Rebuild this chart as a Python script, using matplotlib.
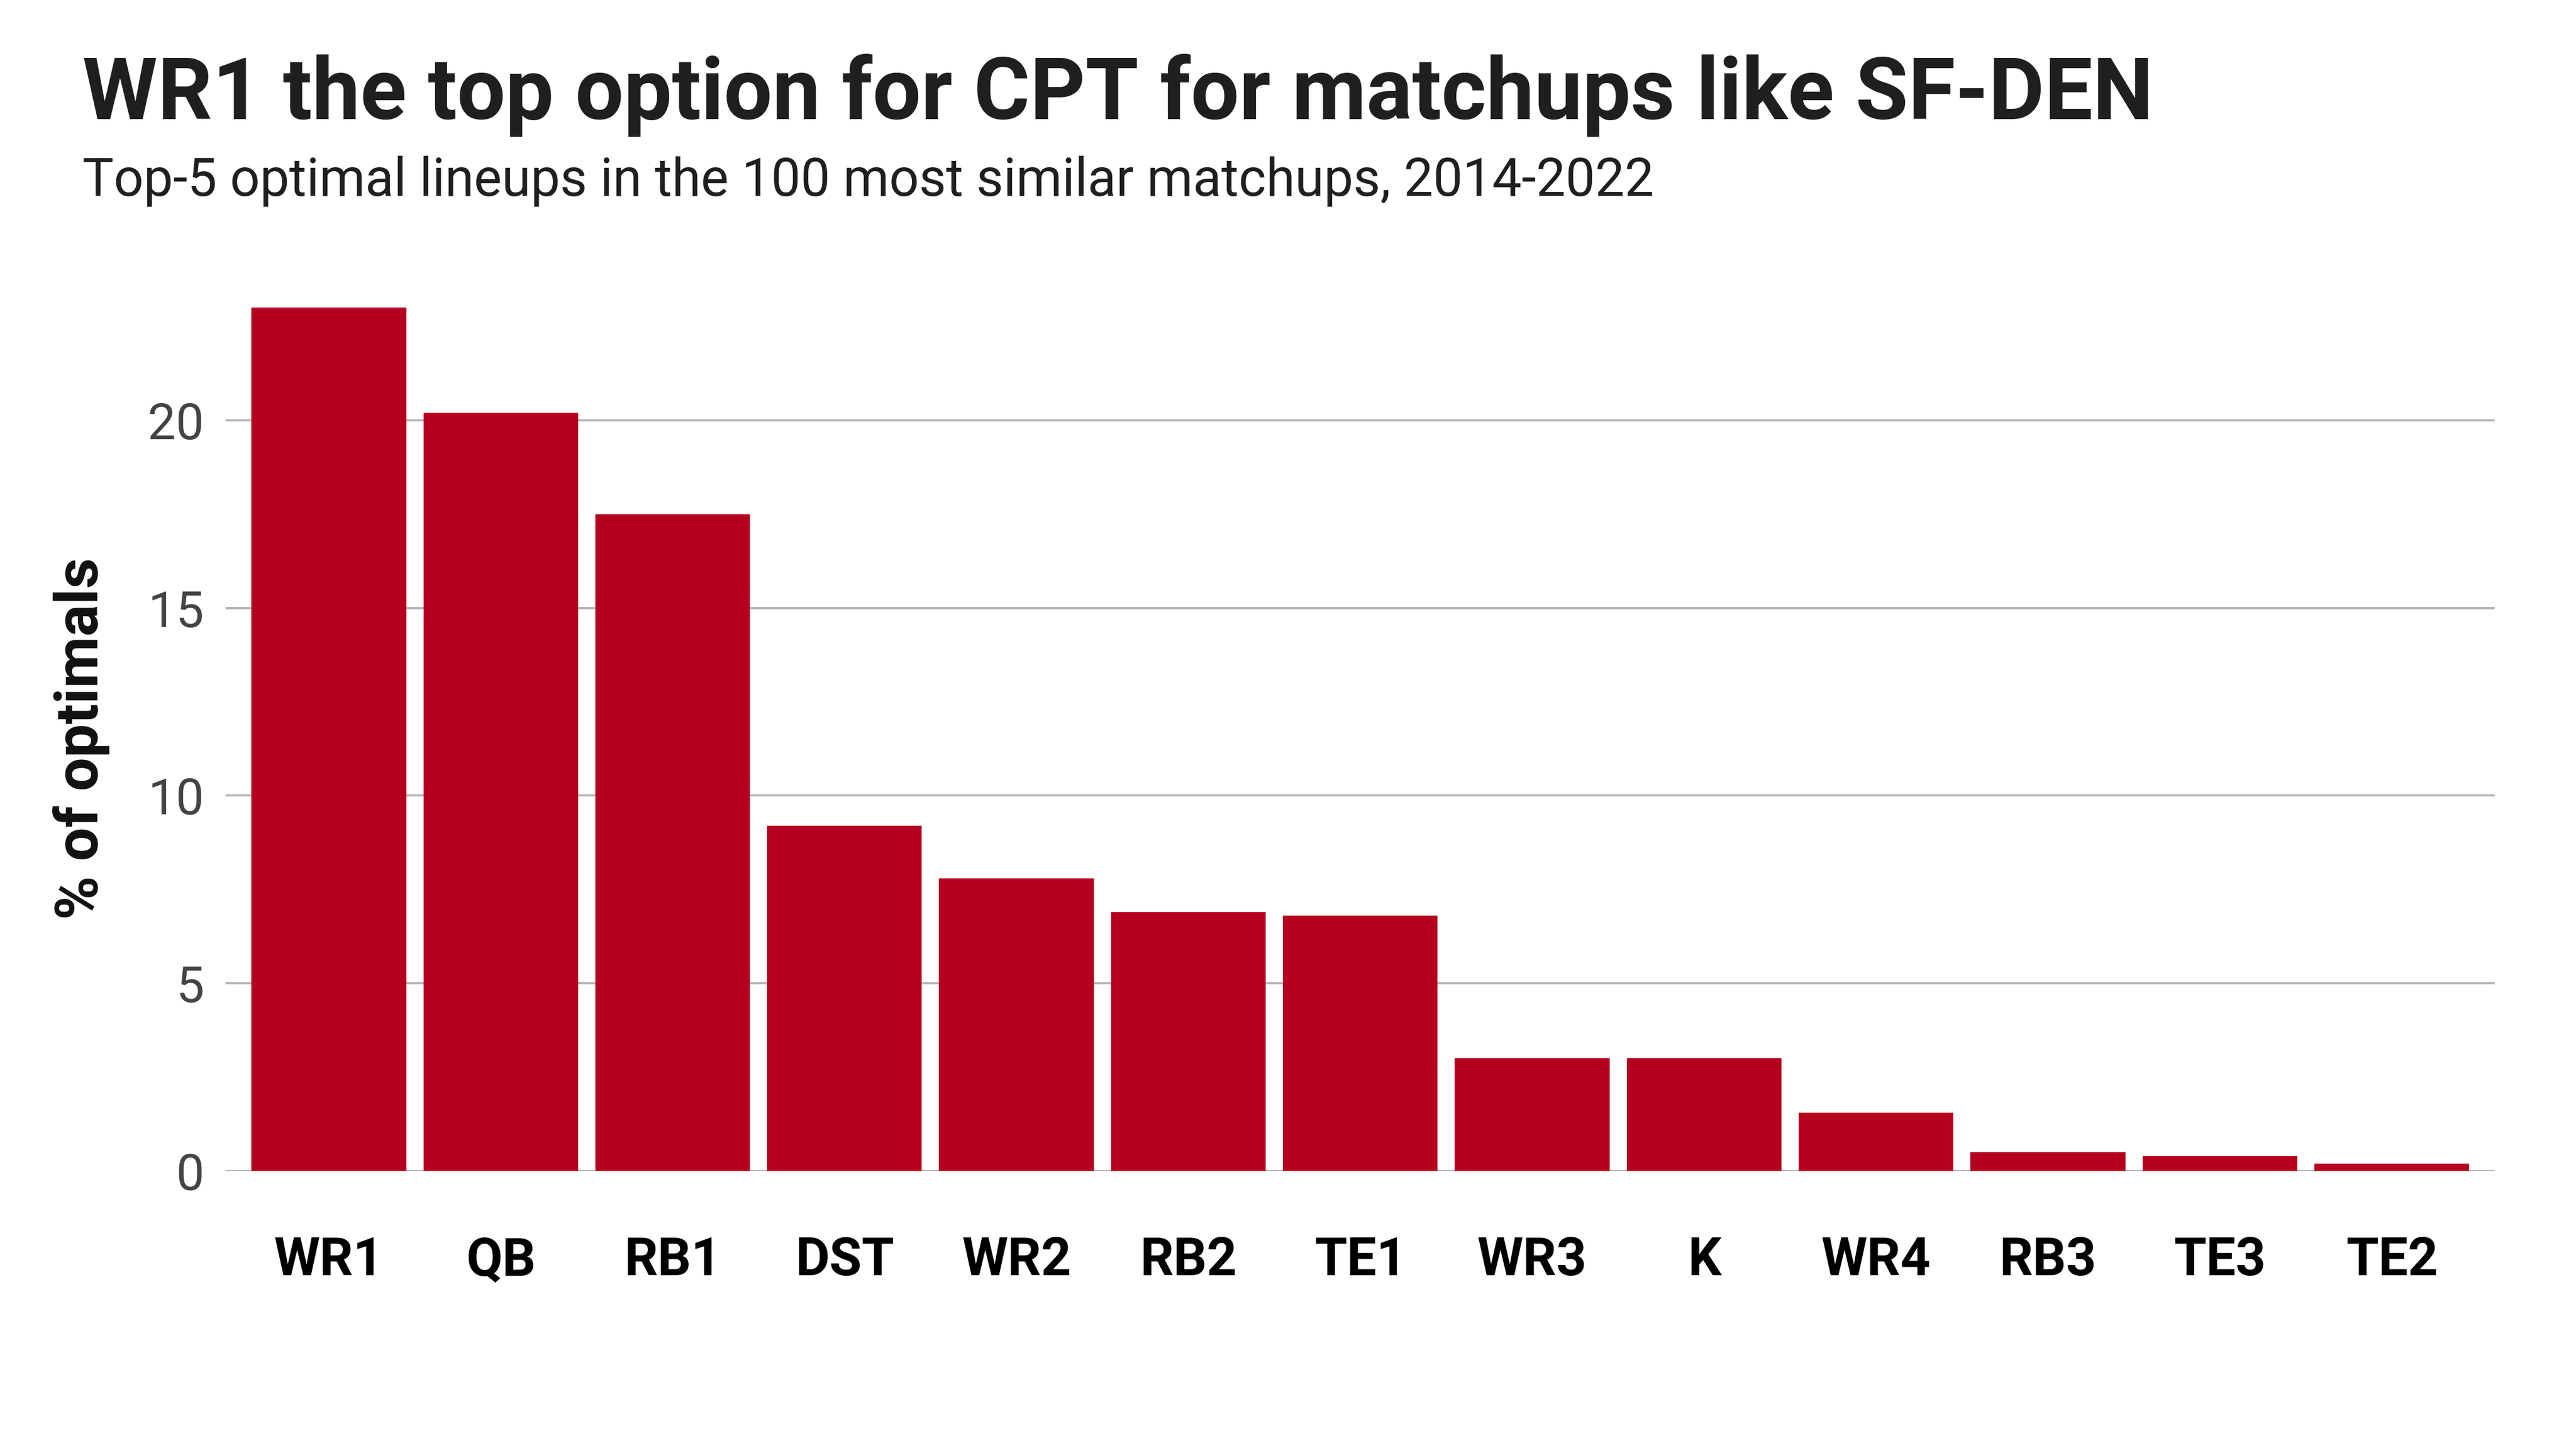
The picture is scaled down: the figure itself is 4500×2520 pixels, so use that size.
import matplotlib
matplotlib.use("Agg")
import matplotlib.pyplot as plt

# ---------------------------------------------------------------------------
# Share of top-5 optimal lineups with each position at CPT
# ---------------------------------------------------------------------------

positions = ["WR1", "QB", "RB1", "DST", "WR2", "RB2", "TE1",
             "WR3", "K", "WR4", "RB3", "TE3", "TE2"]
pct_optimals = [23.0, 20.2, 17.5, 9.2, 7.8, 6.9, 6.8,
                3.0, 3.0, 1.55, 0.5, 0.4, 0.2]
y_ticks = [0, 5, 10, 15, 20]

TITLE = "WR1 the top option for CPT for matchups like SF-DEN"
SUBTITLE = "Top-5 optimal lineups in the 100 most similar matchups, 2014-2022"

BAR_COLOR = "#B60020"
GRID_COLOR = "#B3B3B3"

plt.rcParams['font.family'] = ['Roboto', 'DejaVu Sans']

fig = plt.figure(figsize=(15, 8.4), dpi=300)
ax = fig.add_axes([0.0876, 0.1885, 0.9685 - 0.0876, 0.7868 - 0.1885])

x = range(len(positions))
ax.bar(x, pct_optimals, width=0.9, color=BAR_COLOR, zorder=2)

ax.set_xlim(-0.6, len(positions) - 0.4)
ax.set_ylim(0, max(pct_optimals))
ax.set_yticks(y_ticks)
ax.set_xticks(list(x))
ax.set_xticklabels(positions, fontsize=22, fontweight='bold', color='black')
ax.tick_params(axis='x', length=0, pad=27)
ax.tick_params(axis='y', length=0, pad=9, labelsize=21, labelcolor='#444444')

ax.grid(axis='y', color=GRID_COLOR, linewidth=0.9, zorder=0)
ax.grid(axis='x', visible=False)
for s in ax.spines.values():
    s.set_visible(False)

fig.text(0.032, 0.9176, TITLE, fontsize=36, fontweight='bold',
         color='#1F1F1F', va='baseline', ha='left')
fig.text(0.032, 0.8643, SUBTITLE, fontsize=22,
         color='#1F1F1F', va='baseline', ha='left')
fig.text(0.0315, 0.488, "% of optimals", fontsize=25, fontweight='bold',
         color='#111111', rotation=90, va='center', ha='center')

fig.savefig("out.png", dpi=300, facecolor='white')
